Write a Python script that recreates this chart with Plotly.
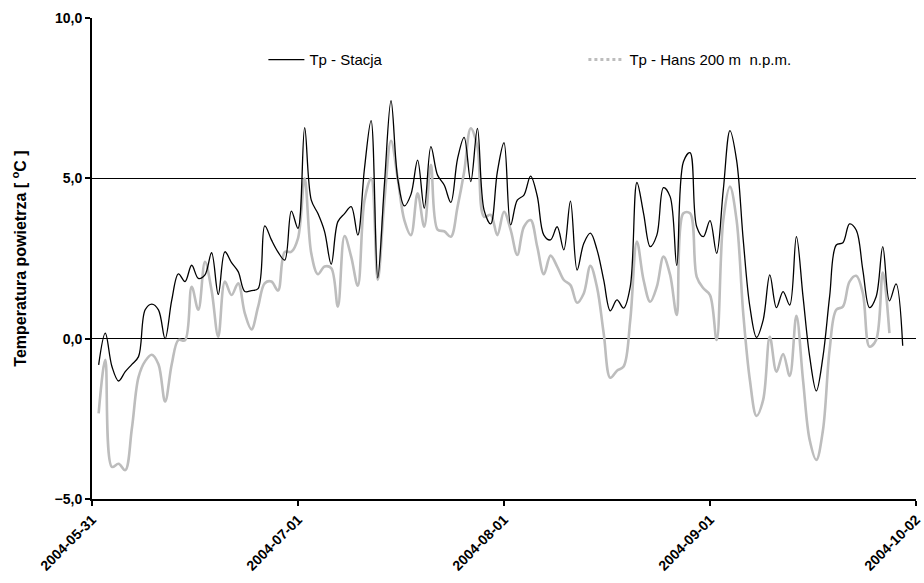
import pandas as pd
import plotly.graph_objects as go

# daily values, starting 2004-06-01
stacja = [-0.82, 0.17, -0.87, -1.32, -1.03, -0.80, -0.56, 0.90, 1.08, 0.90,
          0.00, 1.20, 2.02, 1.78, 2.29, 1.88, 1.99, 2.68, 1.38, 2.71,
          2.37, 2.09, 1.47, 1.50, 1.56, 3.52, 3.08, 2.70, 2.45, 3.98,
          3.44, 6.58, 4.32, 3.90, 3.34, 2.32, 3.65, 3.90, 4.12, 3.23,
          5.30, 6.80, 1.90, 4.80, 7.42, 5.00, 4.14, 4.50, 5.57, 4.07,
          5.99, 5.10, 4.79, 4.25, 5.60, 6.28, 4.90, 6.56, 4.01, 3.58,
          5.20, 6.11, 3.55, 4.32, 4.48, 5.07, 4.45, 3.23, 3.08, 3.49,
          2.77, 4.29, 2.14, 2.97, 3.29, 2.77, 1.83, 0.87, 1.21, 0.95,
          1.62, 4.87, 3.91, 2.87, 3.23, 4.71, 4.43, 2.28, 5.52, 5.80,
          3.49, 3.18, 3.68, 2.66, 4.64, 6.49, 5.57, 3.08, 1.00, 0.04,
          0.58, 1.99, 0.97, 1.47, 1.05, 3.18, 1.31, -0.56, -1.63, -0.56,
          1.31, 2.92, 2.99, 3.58, 3.39, 2.14, 0.97, 1.31, 2.87, 1.18,
          1.71, -0.22]

hans = [-2.33, -0.66, -4.00, -3.90, -4.10, -2.80, -1.20, -0.70, -0.50, -0.80,
        -1.96, -0.80, -0.04, -0.05, 1.62, 0.90, 2.40, 1.50, 0.06, 1.78,
        1.36, 1.73, 0.79, 0.29, 1.00, 1.73, 1.78, 1.50, 2.70, 2.71,
        3.13, 5.00, 2.66, 2.01, 2.25, 2.20, 1.00, 3.20, 2.56, 1.65,
        4.30, 5.00, 1.83, 4.30, 6.17, 5.00, 3.70, 3.23, 4.53, 3.49,
        5.42, 3.40, 3.35, 3.18, 4.10, 5.20, 6.56, 5.99, 3.80, 3.86,
        3.23, 3.96, 3.39, 2.61, 3.49, 3.70, 2.87, 2.01, 2.59, 2.25,
        1.83, 1.67, 1.12, 1.41, 2.27, 1.60, 0.17, -1.22, -1.00, -0.87,
        0.58, 3.03, 1.83, 1.15, 1.62, 2.56, 1.99, 0.74, 3.91, 3.91,
        1.93, 1.57, 1.36, -0.04, 3.70, 4.74, 3.70, 0.79, -1.29, -2.41,
        -1.91, 0.06, -1.03, -0.48, -1.16, 0.71, -1.29, -3.16, -3.78, -2.85,
        -0.35, 0.90, 1.00, 1.78, 1.96, 1.42, -0.25, -0.04, 2.06, 0.17]

tick_dates = ["2004-05-31", "2004-07-01", "2004-08-01", "2004-09-01", "2004-10-02"]
y_ticks = [-5, 0, 5, 10]

dates_s = pd.date_range("2004-06-01", periods=len(stacja), freq="D")
dates_h = pd.date_range("2004-06-01", periods=len(hans), freq="D")

bold = dict(family="Liberation Sans, Arial, sans-serif", weight="bold", color="black")
gray = "#bdbdbd"

fig = go.Figure()
fig.add_trace(go.Scatter(x=dates_h, y=hans, mode="lines", name="Tp - Hans 200 m  n.p.m.",
                         showlegend=False,
                         line=dict(color=gray, width=2.6, shape="spline", smoothing=1.0)))
# legend proxy for the gray series (dotted sample as in the reference legend)
fig.add_trace(go.Scatter(x=[None], y=[None], mode="lines", name="Tp - Hans 200 m  n.p.m.",
                         line=dict(color=gray, width=3, dash="dot")))
fig.add_trace(go.Scatter(x=dates_s, y=stacja, mode="lines", name="Tp - Stacja",
                         line=dict(color="black", width=1.3, shape="spline", smoothing=1.0)))

fig.update_layout(
    width=924, height=583,
    margin=dict(l=92, r=8, t=18, b=84),
    paper_bgcolor="white", plot_bgcolor="white",
    font=dict(family="Liberation Sans, Arial, sans-serif", color="black", size=15),
    separators=",.",
    showlegend=True,
    legend=dict(orientation="h", x=0.208, y=0.913, xanchor="left", yanchor="middle",
                traceorder="reversed", entrywidth=269, entrywidthmode="pixels",
                itemwidth=36, font=dict(size=15), bgcolor="rgba(0,0,0,0)"),
    xaxis=dict(type="date", range=["2004-05-31", "2004-10-02"], automargin=False,
               tickvals=tick_dates, ticktext=tick_dates,
               tickangle=-45, tickfont=dict(size=14, **bold),
               ticklabeloverflow="allow",
               showline=True, linecolor="black", linewidth=2,
               ticks="outside", ticklen=5, tickwidth=2, tickcolor="black",
               showgrid=False, zeroline=False),
    yaxis=dict(range=[-5, 10], tickvals=y_ticks, tickformat=".1f",
               tickfont=dict(size=14, **bold),
               showline=True, linecolor="black", linewidth=2,
               ticks="outside", ticklen=5, tickwidth=2, tickcolor="black",
               showgrid=True, gridcolor="black", gridwidth=1, zeroline=False,
               title=dict(text="Temperatura powietrza [ <sup>o</sup>C ]",
                          font=dict(size=16, **bold),
                          standoff=24)),
)

fig.write_html("out.html")
